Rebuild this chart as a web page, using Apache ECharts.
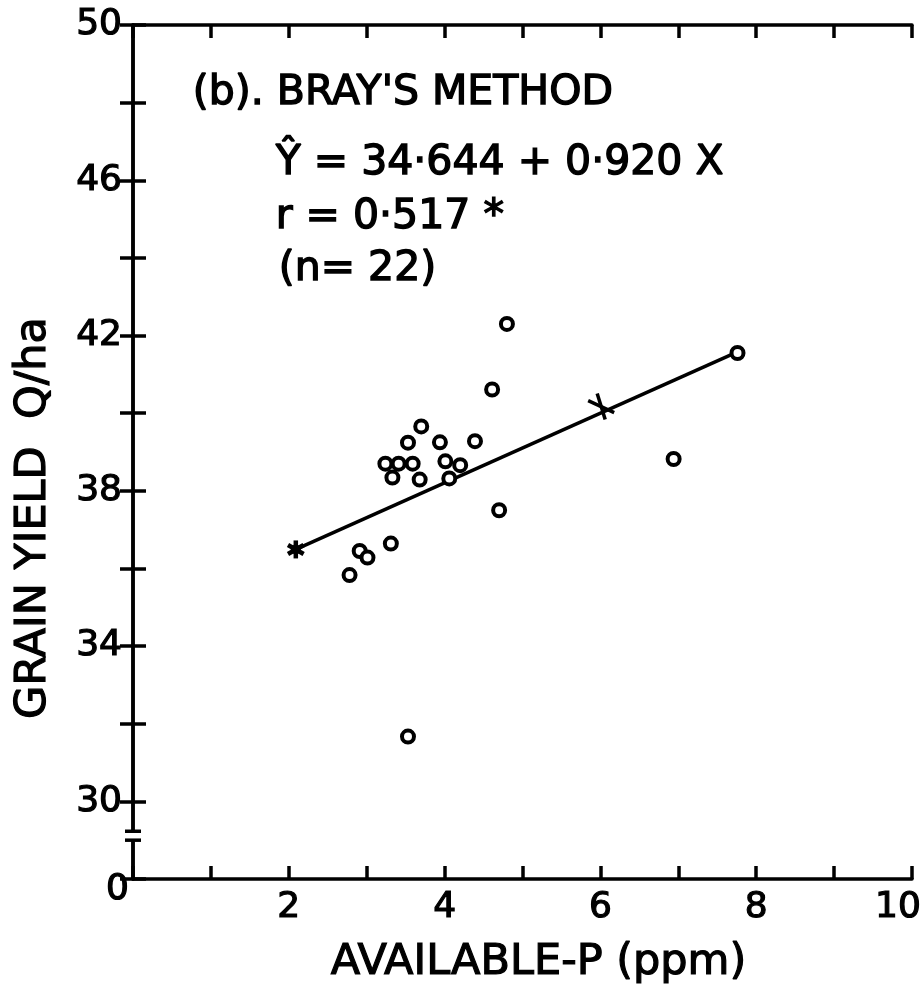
<!DOCTYPE html>
<html><head><meta charset="utf-8">
<script src="https://cdn.jsdelivr.net/npm/echarts@6/dist/echarts.min.js"></script>
<style>html,body{margin:0;padding:0;background:#fff}#c{width:922px;height:999px}</style>
</head><body><div id="c"></div>
<script>
// Data
const availP = [4.80, 4.61, 3.70, 3.53, 3.94, 4.39, 3.24, 3.41, 3.59, 3.33, 3.68, 4.01, 4.20, 4.06, 4.70, 3.31, 2.91, 3.01, 2.78, 3.53, 7.76, 6.94];
const grainYield = [42.30, 40.61, 39.66, 39.24, 39.25, 39.28, 38.70, 38.70, 38.70, 38.34, 38.29, 38.76, 38.66, 38.32, 37.50, 36.64, 36.45, 36.28, 35.83, 31.67, 41.55, 38.82];
const fitX = [2.09, 7.76];
const fitY = [36.49, 41.58];
const starX = [2.09];
const starY = [36.49];
const crossX = [6.01];
const crossY = [40.17];
const xLabelVals = [2, 4, 6, 8, 10];
const yLabelVals = [30, 34, 38, 42, 46, 50];
const yBreakValue = 28;      // axis bottom, labelled as 0 (broken axis)
const yBreakLabel = '0';
const breakLow = 29.0, breakHigh = 29.23;
const annotations = ["(b). BRAY'S METHOD", "Ŷ = 34·644 + 0·920 X", "r = 0·517 *", "(n= 22)"];
const xName = 'AVAILABLE-P (ppm)';
const yName = 'GRAIN YIELD  Q/ha';

const FONT = 'DejaVu Sans';
const chart = echarts.init(document.getElementById('c'), null, {renderer: 'canvas'});

const axisLine = {show: true, lineStyle: {color: '#000', width: 3.5}};
const tickStyle = {show: true, inside: true, length: 13, lineStyle: {color: '#000', width: 3.5}};
const txt = {color: '#000', fontFamily: FONT, textBorderColor: '#000', textBorderWidth: 1.2};

const option = {
  backgroundColor: '#fff',
  animation: false,
  grid: {left: 133, right: 10, top: 25, bottom: 120, containLabel: false, outerBoundsMode: 'none'},
  xAxis: [{
    type: 'value', min: 0, max: 10, interval: 1, position: 'bottom',
    axisLine, axisTick: tickStyle, splitLine: {show: false},
    axisLabel: Object.assign({
      margin: 11, fontSize: 36,
      formatter: v => v === 10 ? '{r|10}' : (xLabelVals.includes(v) ? String(v) : ''),
      rich: {r: Object.assign({fontSize: 36, padding: [0, 28, 0, 0]}, txt)}
    }, txt),
    name: xName, nameLocation: 'middle', nameGap: 62,
    nameTextStyle: Object.assign({fontSize: 43, padding: [0, 0, 0, 32]}, txt)
  }, {
    type: 'value', min: 0, max: 10, interval: 1, position: 'top',
    axisLine, axisTick: tickStyle, splitLine: {show: false}, axisLabel: {show: false}
  }],
  yAxis: [{
    type: 'value', min: 28, max: 50, interval: 2, position: 'left',
    axisLine, axisTick: tickStyle, splitLine: {show: false},
    axisLabel: Object.assign({
      margin: 4, fontSize: 36,
      formatter: v => v === yBreakValue ? '{z|' + yBreakLabel + '}' : (yLabelVals.includes(v) ? '{n|' + v + '}' : ''),
      rich: {
        z: Object.assign({fontSize: 36, padding: [22, 0, 0, 0]}, txt),
        n: Object.assign({fontSize: 36, padding: [0, 7, 0, 0]}, txt)
      }
    }, txt),
    name: yName, nameLocation: 'middle', nameGap: 78, nameRotate: 90,
    nameTextStyle: Object.assign({fontSize: 43, padding: [0, 132, 0, 0]}, txt)
  }, {
    type: 'value', min: 28, max: 50, interval: 2, position: 'right',
    axisLine, axisTick: tickStyle, splitLine: {show: false}, axisLabel: {show: false}
  }],
  series: [{
    type: 'line', data: fitX.map((x, i) => [x, fitY[i]]), symbol: 'none',
    lineStyle: {color: '#000', width: 3.5}, z: 2, silent: true
  }, {
    type: 'scatter', data: availP.map((x, i) => [x, grainYield[i]]),
    symbol: 'circle', symbolSize: 12,
    itemStyle: {color: '#fff', borderColor: '#000', borderWidth: 4, opacity: 1}, z: 3
  }, {
    type: 'custom', z: 4,
    data: starX.map((x, i) => [x, starY[i]]),
    renderItem: (params, api) => {
      const p = api.coord([api.value(0), api.value(1)]);
      const r = 9, ch = [];
      for (let k = 0; k < 3; k++) {
        const a = Math.PI / 3 * k + Math.PI / 2;
        ch.push({type: 'line', shape: {x1: p[0] - r * Math.cos(a), y1: p[1] - r * Math.sin(a), x2: p[0] + r * Math.cos(a), y2: p[1] + r * Math.sin(a)},
          style: {stroke: '#000', lineWidth: 4.5}});
      }
      ch.push({type: 'circle', shape: {cx: p[0], cy: p[1], r: 5}, style: {fill: '#000'}});
      return {type: 'group', children: ch};
    }
  }, {
    type: 'custom', z: 4,
    data: crossX.map((x, i) => [x, crossY[i]]),
    renderItem: (params, api) => {
      const p = api.coord([api.value(0), api.value(1)]);
      return {type: 'group', children: [
        {type: 'line', shape: {x1: p[0] - 4, y1: p[1] - 13, x2: p[0] + 4, y2: p[1] + 13}, style: {stroke: '#000', lineWidth: 3.5}},
        {type: 'line', shape: {x1: p[0] - 13, y1: p[1] - 6, x2: p[0] + 13, y2: p[1] + 6}, style: {stroke: '#000', lineWidth: 3.5}}
      ]};
    }
  }],
  graphic: [
    {type: 'text', left: 192, top: 72, style: {text: annotations[0], font: '41px "' + FONT + '"', fill: '#000', stroke: '#000', lineWidth: 1.4}},
    {type: 'text', left: 275, top: 142, style: {text: annotations[1], font: '41px "' + FONT + '"', fill: '#000', stroke: '#000', lineWidth: 1.4}},
    {type: 'text', left: 275, top: 196, style: {text: annotations[2], font: '41px "' + FONT + '"', fill: '#000', stroke: '#000', lineWidth: 1.4}},
    {type: 'text', left: 278, top: 248, style: {text: annotations[3], font: '41px "' + FONT + '"', fill: '#000', stroke: '#000', lineWidth: 1.4}}
  ]
};
chart.setOption(option);

// axis break marks on the left axis
const pHigh = chart.convertToPixel({xAxisIndex: 0, yAxisIndex: 0}, [0, breakHigh]);
const pLow = chart.convertToPixel({xAxisIndex: 0, yAxisIndex: 0}, [0, breakLow]);
chart.setOption({graphic: option.graphic.concat([
  {type: 'rect', shape: {x: pHigh[0] - 4, y: pHigh[1], width: 8, height: pLow[1] - pHigh[1]}, style: {fill: '#fff'}, z: 100},
  {type: 'line', shape: {x1: pHigh[0] - 8, y1: pHigh[1], x2: pHigh[0] + 8, y2: pHigh[1]}, style: {stroke: '#000', lineWidth: 3.5}, z: 101},
  {type: 'line', shape: {x1: pLow[0] - 8, y1: pLow[1], x2: pLow[0] + 8, y2: pLow[1]}, style: {stroke: '#000', lineWidth: 3.5}, z: 101}
])});
</script>
</body></html>
